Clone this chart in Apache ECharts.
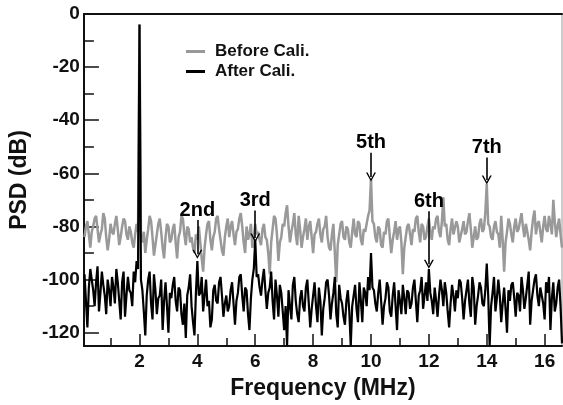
<!DOCTYPE html>
<html>
<head>
<meta charset="utf-8">
<script src="https://cdn.jsdelivr.net/npm/echarts@6/dist/echarts.min.js"></script>
<style>
  html, body { margin: 0; padding: 0; background: #fff; }
  #chart { width: 563px; height: 405px; }
</style>
</head>
<body>
<div id="chart"></div>
<script>
// sampling grid: 0.1 .. 16.6 MHz, step 0.05
var freqStart = 0.1, freqStep = 0.05;

// PSD before calibration (dB), grey trace, one row per MHz
var beforeCali = [
  -84,-80,-78,-83,-88,-82,-80,-77,-76,-81,-86,-83,-81,-75,-77,-84,-89,-85,-79,-82,
  -83,-79,-76,-81,-87,-84,-80,-77,-78,-83,-85,-80,-82,-86,-88,-83,-79,-82,-4,-84,
  -86,-82,-90,-85,-81,-76,-78,-84,-91,-87,-83,-79,-77,-82,-88,-92,-84,-79,-80,-86,
  -85,-81,-79,-86,-92,-84,-82,-76,-77,-83,-87,-80,-81,-86,-84,-88,-90,-83,-85,-80,
  -86,-92,-97,-88,-83,-79,-78,-85,-89,-84,-82,-77,-76,-81,-85,-89,-91,-84,-80,-77,
  -84,-80,-78,-83,-87,-82,-81,-77,-75,-80,-86,-90,-80,-85,-83,-79,-88,-84,-79,-83,
  -82,-85,-87,-81,-79,-84,-85,-90,-98,-86,-81,-76,-77,-83,-93,-86,-84,-79,-80,-75,
  -72,-80,-86,-82,-79,-75,-83,-87,-76,-81,-88,-84,-81,-77,-85,-80,-78,-84,-90,-83,
  -82,-79,-77,-83,-86,-81,-80,-76,-84,-88,-89,-83,-79,-90,-101,-87,-83,-79,-78,-84,
  -85,-80,-81,-86,-88,-82,-77,-83,-84,-78,-79,-85,-87,-81,-82,-79,-76,-74,-62,-78,
  -79,-84,-86,-80,-81,-87,-88,-82,-83,-78,-77,-84,-90,-85,-82,-78,-85,-81,-80,-86,
  -98,-88,-84,-80,-79,-83,-87,-81,-82,-77,-76,-82,-86,-79,-80,-85,-84,-80,-77,-82,
  -85,-80,-81,-77,-76,-82,-84,-78,-69,-80,-79,-85,-87,-81,-77,-83,-83,-78,-80,-86,
  -86,-81,-78,-83,-82,-78,-75,-81,-88,-84,-80,-85,-84,-79,-77,-82,-81,-75,-64,-79,
  -80,-84,-85,-80,-78,-82,-83,-88,-76,-85,-97,-86,-82,-77,-79,-83,-86,-80,-77,-82,
  -81,-78,-75,-80,-84,-79,-79,-85,-89,-82,-77,-74,-83,-79,-78,-82,-86,-80,-76,-81,
  -82,-76,-79,-83,-70,-78,-84,-80,-77,-83,-88
];

// PSD after calibration (dB), black trace
var afterCali = [
  -98,-108,-118,-103,-96,-100,-104,-110,-101,-95,-112,-105,-97,-102,-106,-113,-100,-104,-110,-99,
  -103,-109,-96,-101,-108,-115,-101,-97,-114,-106,-99,-104,-105,-110,-97,-101,-93,-96,-4,-100,
  -104,-112,-121,-106,-100,-97,-109,-115,-98,-104,-113,-107,-106,-100,-119,-108,-101,-110,-120,-105,
  -107,-102,-99,-108,-112,-103,-104,-113,-117,-109,-122,-106,-103,-98,-110,-116,-121,-105,-93,-106,
  -105,-99,-112,-106,-100,-110,-108,-118,-115,-104,-102,-108,-109,-101,-99,-106,-114,-109,-106,-112,
  -110,-104,-101,-109,-117,-108,-105,-99,-98,-106,-112,-103,-104,-113,-119,-107,-100,-96,-85,-99,
  -98,-103,-106,-100,-96,-104,-111,-105,-103,-97,-108,-115,-100,-106,-114,-102,-105,-112,-119,-110,
  -125,-104,-110,-115,-102,-99,-108,-113,-116,-107,-104,-110,-112,-103,-100,-109,-118,-111,-106,-101,
  -110,-116,-103,-108,-121,-111,-107,-101,-100,-106,-115,-109,-105,-99,-113,-118,-102,-107,-109,-114,
  -117,-108,-104,-112,-125,-110,-106,-102,-111,-116,-101,-108,-116,-103,-105,-110,-99,-104,-90,-103,
  -104,-109,-112,-105,-100,-108,-117,-110,-107,-101,-103,-112,-114,-106,-101,-110,-119,-104,-108,-113,
  -102,-107,-113,-104,-105,-111,-109,-103,-100,-108,-116,-106,-104,-99,-111,-106,-101,-108,-96,-105,
  -108,-113,-103,-108,-114,-106,-100,-104,-110,-101,-105,-112,-118,-109,-102,-106,-112,-104,-107,-100,
  -101,-107,-115,-108,-104,-100,-109,-114,-99,-103,-117,-110,-106,-101,-103,-109,-110,-104,-94,-106,
  -125,-110,-105,-99,-112,-107,-100,-106,-116,-109,-103,-111,-120,-104,-108,-102,-101,-107,-114,-105,
  -106,-112,-99,-104,-111,-107,-102,-97,-117,-108,-104,-100,-98,-106,-110,-103,-103,-109,-115,-101,
  -105,-99,-119,-107,-101,-112,-109,-103,-100,-110,-124
];

// harmonic annotations
var harmLabels = ['2nd', '3rd', '5th', '6th', '7th'];
var harmFreq   = [4, 6, 10, 12, 14];
var arrowTop   = [-77.6, -74, -52.2, -74.3, -54];
var arrowTip   = [-90.5, -84.3, -61.4, -94.2, -62.5];

var xMajor = [2, 4, 6, 8, 10, 12, 14, 16];
var xMinor = [1, 3, 5, 7, 9, 11, 13, 15];
var yMajor = [-120, -100, -80, -60, -40, -20, 0];
var yMinor = [-110, -90, -70, -50, -30, -10];

var FONT = "'Liberation Sans', Arial, sans-serif";

var freqs = [];
for (var i = 0; i < afterCali.length; i++) freqs.push(+(freqStart + i * freqStep).toFixed(2));

function pairs(vals) {
  return vals.map(function (v, i) { return [freqs[i], v]; });
}

var arrowLines = harmLabels.map(function (name, i) {
  return [
    { name: name, coord: [harmFreq[i], arrowTop[i]] },
    { coord: [harmFreq[i], arrowTip[i]] }
  ];
});

var chart = echarts.init(document.getElementById('chart'));
var XMIN = 0.08, XMAX = 16.6, YMIN = -125, YMAX = 0;

function tickAxisX(pos, ticks, len, line, labels) {
  return {
    type: 'value', min: XMIN, max: XMAX, position: pos,
    axisLine: { show: line, onZero: false, lineStyle: { color: '#111', width: 2 } },
    axisTick: { show: ticks.length > 0, inside: true, length: len, customValues: ticks, lineStyle: { color: '#111', width: 1.5 } },
    axisLabel: labels ? { customValues: ticks, margin: 6, fontFamily: FONT, fontWeight: 'bold', fontSize: 19, color: '#111' } : { show: false },
    splitLine: { show: false }
  };
}

var xBottom = tickAxisX('bottom', xMajor, 12, true, true);
xBottom.name = 'Frequency (MHz)';
xBottom.nameLocation = 'middle';
xBottom.nameGap = 31;
xBottom.nameTextStyle = { fontFamily: FONT, fontWeight: 'bold', fontSize: 23, color: '#111' };

chart.setOption({
  animation: false,
  backgroundColor: '#fff',
  textStyle: { fontFamily: FONT },
  grid: {
    left: 80, right: 1, top: 14, bottom: 52,
    show: true, borderColor: '#999', borderWidth: 1
  },
  legend: {
    orient: 'vertical',
    left: 186, top: 43, padding: 0,
    itemWidth: 19, itemHeight: 3, itemGap: 3,
    icon: 'rect',
    textStyle: { fontFamily: FONT, fontWeight: 'bold', fontSize: 17, color: '#111', padding: [0, 0, 0, 5] },
    data: ['Before Cali.', 'After Cali.']
  },
  xAxis: [
    xBottom,
    tickAxisX('bottom', xMinor, 8, false, false),
    tickAxisX('top', [], 0, true, false)
  ],
  yAxis: [
    {
      type: 'value', min: YMIN, max: YMAX, position: 'left',
      name: 'PSD (dB)', nameLocation: 'middle', nameGap: 50, nameRotate: 90,
      nameTextStyle: { fontFamily: FONT, fontWeight: 'bold', fontSize: 23, color: '#111' },
      axisLine: { show: true, onZero: false, lineStyle: { color: '#111', width: 2 } },
      axisTick: { show: true, inside: true, length: 15, customValues: yMajor, lineStyle: { color: '#111', width: 1.5 } },
      axisLabel: { customValues: yMajor, margin: 4, fontFamily: FONT, fontWeight: 'bold', fontSize: 19, color: '#111' },
      splitLine: { show: false }
    },
    {
      type: 'value', min: YMIN, max: YMAX, position: 'left', offset: 0,
      axisLine: { show: false, onZero: false },
      axisTick: { show: true, inside: true, length: 10, customValues: yMinor, lineStyle: { color: '#111', width: 1.5 } },
      axisLabel: { show: false },
      splitLine: { show: false }
    }
  ],
  series: [
    {
      name: 'Before Cali.', type: 'line', showSymbol: false,
      itemStyle: { color: '#999' },
      lineStyle: { color: '#999', width: 2.5 },
      data: pairs(beforeCali)
    },
    {
      name: 'After Cali.', type: 'line', showSymbol: false,
      itemStyle: { color: '#000' },
      lineStyle: { color: '#000', width: 2.2 },
      data: pairs(afterCali),
      markLine: {
        silent: true,
        symbol: ['none', 'path://M0,10 L5,0 L10,10 L8.4,10 L5,3 L1.6,10 Z'],
        symbolSize: [10, 9],
        lineStyle: { color: '#000', width: 1.6, type: 'solid' },
        label: {
          show: true, position: 'start', distance: 0,
          formatter: '{b}',
          fontFamily: FONT, fontWeight: 'bold', fontSize: 20, color: '#000'
        },
        data: arrowLines
      }
    }
  ]
});
</script>
</body>
</html>
